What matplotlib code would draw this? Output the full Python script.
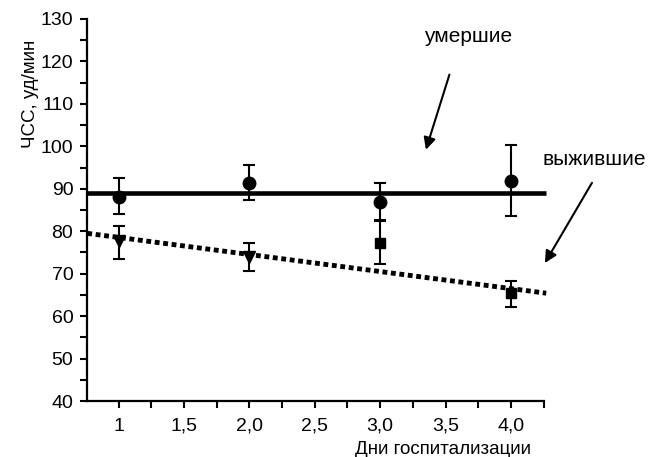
import matplotlib
matplotlib.use("Agg")
import matplotlib.pyplot as plt
from matplotlib.ticker import MultipleLocator, FixedLocator

plt.rcParams['font.family'] = ['Liberation Sans', 'DejaVu Sans']

days = [1, 2, 3, 4]

# умершие
dead_hr = [88.1, 91.4, 86.9, 91.8]
dead_lo = [84.0, 87.4, 82.7, 83.5]
dead_hi = [92.5, 95.7, 91.3, 100.3]
dead_mean = 89.1

# выжившие
surv_hr = [77.6, 74.0, 77.2, 65.4]
surv_lo = [73.5, 70.7, 72.3, 62.2]
surv_hi = [81.3, 77.2, 82.4, 68.2]
surv_markers = ['v', 'v', 's', 's']

trend_x = [0.76, 4.27]
trend_y = [79.5, 65.4]

xticks = [1, 1.5, 2, 2.5, 3, 3.5, 4]
xticklabels = ['1', '1,5', '2,0', '2,5', '3,0', '3,5', '4,0']

fig = plt.figure(figsize=(6.51, 4.57), dpi=100)
ax = fig.add_axes([0.134, 0.1225, 0.701, 0.836])

ax.plot([trend_x[0], trend_x[1]], [dead_mean, dead_mean], color='black', lw=3.3,
        solid_capstyle='butt', clip_on=False, zorder=2)
ax.plot(trend_x, trend_y, color='black', lw=3.5, linestyle=(0, (1, 0.75)),
        clip_on=False, zorder=2)

for d, v, lo, hi in zip(days, dead_hr, dead_lo, dead_hi):
    ax.errorbar([d], [v], yerr=[[v - lo], [hi - v]], fmt='o', color='black',
                ms=9, elinewidth=1.5, capsize=4.5, capthick=1.5, zorder=3)
for d, v, lo, hi, m in zip(days, surv_hr, surv_lo, surv_hi, surv_markers):
    ax.errorbar([d], [v], yerr=[[v - lo], [hi - v]], fmt=m, color='black',
                ms=9 if m == 'v' else 7, elinewidth=1.5, capsize=4.5,
                capthick=1.5, zorder=3)

ax.set_xlim(0.76, 4.25)
ax.set_ylim(40, 130)
ax.spines['top'].set_visible(False)
ax.spines['right'].set_visible(False)
for s in ['left', 'bottom']:
    ax.spines[s].set_linewidth(1.6)

ax.set_xticks(xticks)
ax.set_xticklabels(xticklabels)
ax.xaxis.set_minor_locator(FixedLocator([1.25, 1.75, 2.25, 2.75, 3.25, 3.75, 4.25]))
ax.yaxis.set_major_locator(MultipleLocator(10))
ax.yaxis.set_minor_locator(MultipleLocator(5))
ax.tick_params(which='both', direction='out', width=1.5, labelsize=14, colors='black')
ax.tick_params(which='both', length=5)
ax.tick_params(axis='x', pad=7)
ax.tick_params(axis='y', pad=5)

ax.set_xlabel('Дни госпитализации', fontsize=13.5)
ax.xaxis.set_label_coords(0.78, -0.105)
ax.set_ylabel('ЧСС, уд/мин', fontsize=13.5)
ax.yaxis.set_label_coords(-0.105, 0.805)

ax.text(3.67, 125.8, 'умершие', fontsize=15, ha='center', va='center')
ax.annotate('', xy=(3.35, 99.2), xytext=(3.53, 116.9), annotation_clip=False,
            arrowprops=dict(arrowstyle='-|>', color='black', lw=1.5,
                            mutation_scale=18, shrinkA=0, shrinkB=0))
ax.text(4.64, 96.8, 'выжившие', fontsize=15, ha='center', va='center', clip_on=False)
ax.annotate('', xy=(4.26, 72.5), xytext=(4.62, 91.4), annotation_clip=False,
            arrowprops=dict(arrowstyle='-|>', color='black', lw=1.5,
                            mutation_scale=18, shrinkA=0, shrinkB=0))

fig.savefig('out.png', dpi=100)
